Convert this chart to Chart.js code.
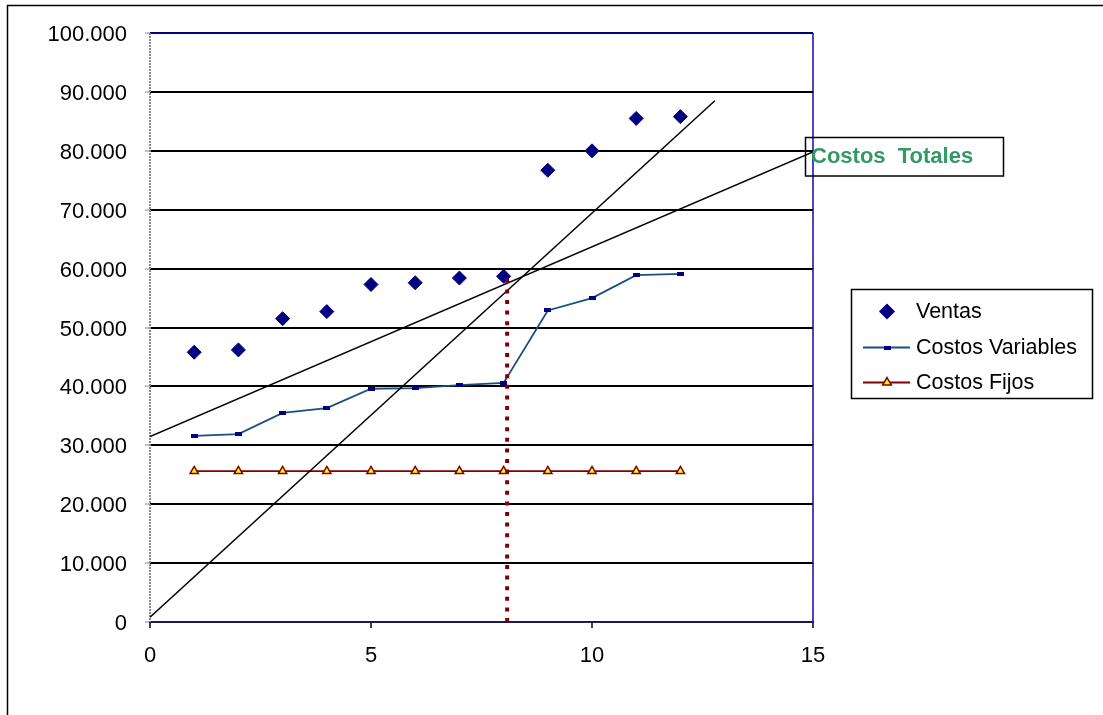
<!DOCTYPE html>
<html>
<head>
<meta charset="utf-8">
<title>Punto de equilibrio</title>
<script src="https://cdn.jsdelivr.net/npm/chart.js@4/dist/chart.umd.min.js"></script>
<style>
    body { margin: 0; background: #fff; }
    #wrap { width: 1103px; height: 715px; }
</style>
</head>
<body>
<div id="wrap"><canvas id="grafico" width="1103" height="715"></canvas></div>
<script>
// datos por mes
const meses = [1, 2, 3, 4, 5, 6, 7, 8, 9, 10, 11, 12];
const ventas = [45800, 46200, 51500, 52700, 57300, 57600, 58400, 58700, 76700, 80000, 85500, 85800];
const costosVariables = [31600, 31900, 35500, 36300, 39600, 39700, 40200, 40600, 52900, 55000, 58900, 59100];
const costosFijos = [25600, 25600, 25600, 25600, 25600, 25600, 25600, 25600, 25600, 25600, 25600, 25600];

// rectas de tendencia (extremos x / y)
const rectaTotalesX = [0, 15];
const rectaTotalesY = [31500, 79800];
const rectaIngresosX = [0, 12.78];
const rectaIngresosY = [800, 88500];

// punto de equilibrio
const equilibrioX = [8.08, 8.08];
const equilibrioY = [0, 58400];

const ticksX = [0, 5, 10, 15];
const ticksY = [0, 10000, 20000, 30000, 40000, 50000, 60000, 70000, 80000, 90000, 100000];

const FUENTE = '"Liberation Sans", Arial, sans-serif';
const AZUL = '#000080';
const LINEA_VAR = '#1b4f7e';
const ROJO = '#800000';

function pares(xs, ys) {
    return xs.map(function (x, i) { return { x: x, y: ys[i] }; });
}

function formatoMiles(v) {
    return String(v).replace(/\B(?=(\d{3})+(?!\d))/g, '.');
}

// marcador de rayita para costos variables
const marcaVar = document.createElement('canvas');
marcaVar.width = 7;
marcaVar.height = 4;
(function () {
    const c = marcaVar.getContext('2d');
    c.fillStyle = AZUL;
    c.fillRect(0, 0, 7, 4);
})();

const marco = {
    id: 'marco',
    beforeDraw(chart) {
        const ctx = chart.ctx;
        ctx.save();
        ctx.fillStyle = '#fff';
        ctx.fillRect(0, 0, chart.width, chart.height);
        ctx.strokeStyle = '#000';
        ctx.lineWidth = 1.5;
        ctx.strokeRect(7.5, 5.5, 1300, 900);
        ctx.restore();
    },
    beforeDatasetsDraw(chart) {
        // eje vertical punteado
        const ctx = chart.ctx;
        const a = chart.chartArea;
        ctx.save();
        ctx.strokeStyle = '#8a8a8a';
        ctx.lineWidth = 2;
        ctx.setLineDash([2, 1]);
        ctx.beginPath();
        ctx.moveTo(a.left, a.top);
        ctx.lineTo(a.left, a.bottom);
        ctx.stroke();
        ctx.restore();
    },
    afterDraw(chart) {
        const ctx = chart.ctx;
        const h = Chart.helpers;
        ctx.save();

        // cuadro "Costos Totales"
        ctx.strokeStyle = '#000';
        ctx.lineWidth = 1.5;
        ctx.strokeRect(805.5, 137.5, 198, 38.5);
        ctx.fillStyle = '#339966';
        ctx.font = 'bold 22px ' + FUENTE;
        ctx.textBaseline = 'middle';
        ctx.textAlign = 'left';
        ctx.fillText('Costos  Totales', 811, 157);

        // leyenda
        ctx.strokeRect(851.5, 289.5, 241, 109);
        ctx.font = '21.5px ' + FUENTE;
        ctx.fillStyle = '#000';
        const items = [
            { texto: 'Ventas', y: 311.5, linea: null, estilo: 'rectRot', r: 7, fondo: AZUL, borde: AZUL },
            { texto: 'Costos Variables', y: 347.5, linea: LINEA_VAR, estilo: marcaVar, r: 3, fondo: AZUL, borde: AZUL },
            { texto: 'Costos Fijos', y: 382.5, linea: ROJO, estilo: 'triangle', r: 5, fondo: '#ffff00', borde: ROJO }
        ];
        items.forEach(function (it) {
            if (it.linea) {
                ctx.strokeStyle = it.linea;
                ctx.lineWidth = 2;
                ctx.beginPath();
                ctx.moveTo(863, it.y);
                ctx.lineTo(910, it.y);
                ctx.stroke();
            }
            ctx.fillStyle = it.fondo;
            ctx.strokeStyle = it.borde;
            ctx.lineWidth = 1.5;
            h.drawPoint(ctx, { pointStyle: it.estilo, radius: it.r, rotation: 0, borderWidth: 1.5 }, 887, it.y);
            ctx.fillStyle = '#000';
            ctx.fillText(it.texto, 916, it.y + 1);
        });
        ctx.restore();
    }
};

new Chart(document.getElementById('grafico'), {
    type: 'scatter',
    data: {
        datasets: [
            {
                label: 'Equilibrio',
                data: pares(equilibrioX, equilibrioY),
                showLine: true,
                borderColor: ROJO,
                borderWidth: 4,
                borderDash: [4, 6.6],
                borderCapStyle: 'butt',
                pointRadius: 0,
                order: 0
            },
            {
                label: 'Costos Totales',
                data: pares(rectaTotalesX, rectaTotalesY),
                showLine: true,
                borderColor: '#000',
                borderWidth: 1.5,
                pointRadius: 0,
                order: 1
            },
            {
                label: 'Ingresos',
                data: pares(rectaIngresosX, rectaIngresosY),
                showLine: true,
                borderColor: '#000',
                borderWidth: 1.5,
                pointRadius: 0,
                order: 1
            },
            {
                label: 'Ventas',
                data: pares(meses, ventas),
                showLine: false,
                pointStyle: 'rectRot',
                pointRadius: 7,
                backgroundColor: AZUL,
                borderColor: AZUL,
                order: 2
            },
            {
                label: 'Costos Variables',
                data: pares(meses, costosVariables),
                showLine: true,
                borderColor: LINEA_VAR,
                borderWidth: 1.8,
                pointStyle: marcaVar,
                pointRadius: 3,
                order: 3
            },
            {
                label: 'Costos Fijos',
                data: pares(meses, costosFijos),
                showLine: true,
                borderColor: ROJO,
                borderWidth: 1.8,
                pointStyle: 'triangle',
                pointRadius: 4.8,
                pointBorderWidth: 1.5,
                pointBackgroundColor: '#ffff00',
                pointBorderColor: ROJO,
                order: 3
            }
        ]
    },
    options: {
        responsive: false,
        animation: false,
        layout: { padding: { left: 0, top: 33, right: 290, bottom: 0 } },
        plugins: {
            legend: { display: false },
            tooltip: { enabled: false }
        },
        scales: {
            x: {
                type: 'linear',
                min: 0,
                max: 15,
                afterFit(scale) { scale.height = 93; },
                afterBuildTicks(scale) { scale.ticks = ticksX.map(v => ({ value: v })); },
                ticks: {
                    font: { family: FUENTE, size: 22 },
                    color: '#000',
                    padding: 15,
                    maxRotation: 0
                },
                grid: {
                    drawOnChartArea: true,
                    drawTicks: true,
                    tickLength: 6,
                    tickColor: '#000',
                    tickWidth: 1.5,
                    lineWidth: 2,
                    color: ctx => (ctx.tick && ctx.tick.value === 15) ? '#4848c0' : 'rgba(0,0,0,0)'
                },
                border: { display: true, color: '#1b1b4d', width: 2 }
            },
            y: {
                type: 'linear',
                min: 0,
                max: 100000,
                afterFit(scale) { scale.width = 150; },
                afterBuildTicks(scale) { scale.ticks = ticksY.map(v => ({ value: v })); },
                ticks: {
                    font: { family: FUENTE, size: 22 },
                    color: '#000',
                    padding: 18,
                    labelOffset: 2,
                    callback: v => formatoMiles(v)
                },
                grid: {
                    drawTicks: true,
                    tickLength: 5,
                    tickColor: '#888',
                    tickWidth: 1,
                    lineWidth: 2,
                    color: ctx => {
                        if (!ctx.tick) return '#000';
                        if (ctx.tick.value === 100000) return AZUL;
                        if (ctx.tick.value === 0) return '#1b1b4d';
                        return '#000';
                    }
                },
                border: { display: false }
            }
        }
    },
    plugins: [marco]
});
</script>
</body>
</html>
